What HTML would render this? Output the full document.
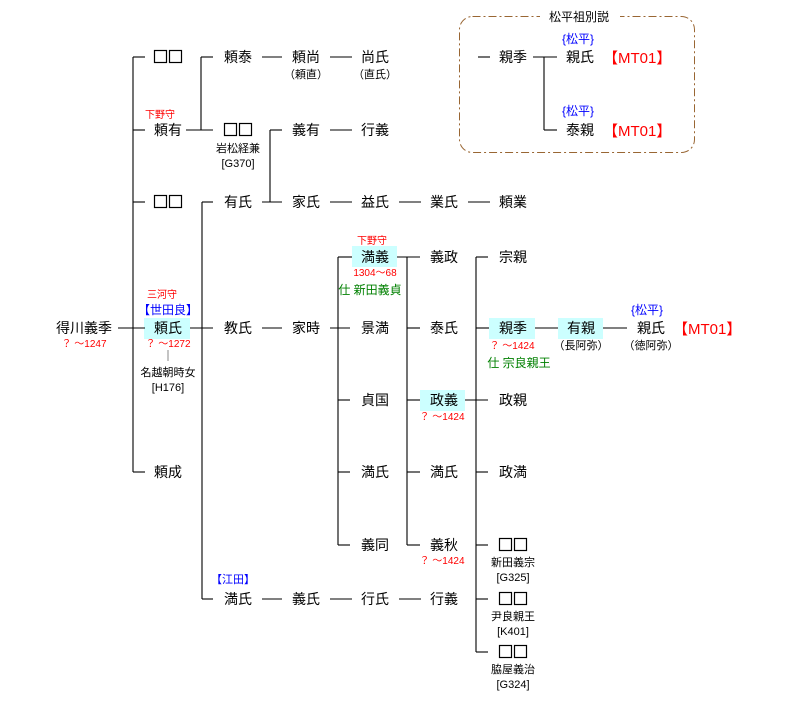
<!DOCTYPE html>
<html><head><meta charset="utf-8"><style>
html,body{margin:0;padding:0;background:#fff;}
svg{display:block;}
text{font-family:"Liberation Sans","Noto Sans CJK JP",sans-serif;}
.n{font-size:14px;fill:#000;text-anchor:middle;}
.s{font-size:11px;fill:#000;text-anchor:middle;}
.r{font-size:10px;fill:#f00;text-anchor:middle;}
.g{font-size:12px;fill:#008000;text-anchor:middle;}
.b{font-size:12px;fill:#00f;text-anchor:middle;}
.m{font-size:15px;fill:#f00;text-anchor:start;}
</style></head><body>
<svg width="810" height="711" viewBox="0 0 810 711" xmlns="http://www.w3.org/2000/svg">
<defs>
<g id="sq"><rect x="0.5" y="0.5" width="12" height="12" fill="none" stroke="#000" stroke-width="1.2"/><rect x="15.5" y="0.5" width="12" height="12" fill="none" stroke="#000" stroke-width="1.2"/></g>
</defs>
<g fill="#ccffff">
<rect x="144" y="318" width="46" height="21"/>
<rect x="352" y="246" width="45" height="21"/>
<rect x="420" y="390" width="45" height="21"/>
<rect x="489" y="318" width="46" height="21"/>
<rect x="558" y="318" width="45" height="21"/>
</g>
<rect x="459.5" y="16.5" width="235" height="136" rx="13" fill="none" stroke="#996633" stroke-width="1" stroke-dasharray="8,3,2,3"/>
<rect x="540" y="8" width="80" height="16" fill="#fff"/>
<text x="579" y="21" class="s" style="font-size:12px">松平祖別説</text>
<g stroke="#000" stroke-width="1.1" fill="none">
<line x1="118" y1="328" x2="145" y2="328"/>
<line x1="133" y1="57" x2="133" y2="472"/>
<line x1="133" y1="57" x2="145" y2="57"/><line x1="133" y1="130" x2="145" y2="130"/>
<line x1="133" y1="202" x2="145" y2="202"/><line x1="133" y1="472" x2="145" y2="472"/>
<line x1="186" y1="130" x2="213" y2="130"/>
<line x1="201" y1="57" x2="201" y2="130"/><line x1="201" y1="57" x2="213" y2="57"/>
<line x1="262" y1="57" x2="282" y2="57"/><line x1="330" y1="57" x2="352" y2="57"/>
<line x1="330" y1="130" x2="352" y2="130"/>
<line x1="270" y1="130" x2="270" y2="202"/><line x1="270" y1="130" x2="282" y2="130"/>
<line x1="262" y1="202" x2="282" y2="202"/>
<line x1="330" y1="202" x2="352" y2="202"/><line x1="399" y1="202" x2="421" y2="202"/><line x1="468" y1="202" x2="490" y2="202"/>
<line x1="202" y1="202" x2="202" y2="599"/><line x1="202" y1="202" x2="213" y2="202"/><line x1="202" y1="599" x2="213" y2="599"/>
<line x1="190" y1="328" x2="213" y2="328"/>
<line x1="262" y1="328" x2="282" y2="328"/>
<line x1="330" y1="328" x2="350" y2="328"/>
<line x1="338" y1="257" x2="338" y2="545"/>
<line x1="338" y1="257" x2="352" y2="257"/><line x1="338" y1="400" x2="350" y2="400"/><line x1="338" y1="472" x2="350" y2="472"/><line x1="338" y1="545" x2="350" y2="545"/>
<line x1="397" y1="257" x2="420" y2="257"/>
<line x1="407" y1="257" x2="407" y2="545"/>
<line x1="407" y1="328" x2="420" y2="328"/><line x1="407" y1="400" x2="420" y2="400"/><line x1="407" y1="472" x2="420" y2="472"/><line x1="407" y1="545" x2="420" y2="545"/>
<line x1="476" y1="257" x2="476" y2="652"/>
<line x1="476" y1="257" x2="488" y2="257"/><line x1="476" y1="328" x2="489" y2="328"/><line x1="465" y1="400" x2="488" y2="400"/>
<line x1="476" y1="472" x2="488" y2="472"/><line x1="476" y1="545" x2="488" y2="545"/><line x1="476" y1="599" x2="488" y2="599"/><line x1="476" y1="652" x2="488" y2="652"/>
<line x1="535" y1="328" x2="558" y2="328"/><line x1="603" y1="328" x2="627" y2="328"/>
<line x1="262" y1="599" x2="282" y2="599"/><line x1="330" y1="599" x2="352" y2="599"/><line x1="399" y1="599" x2="421" y2="599"/>
<line x1="478" y1="57" x2="490" y2="57"/>
<line x1="533" y1="57" x2="557" y2="57"/>
<line x1="544" y1="57" x2="544" y2="130"/><line x1="544" y1="130" x2="557" y2="130"/>
</g>
<line x1="168" y1="350" x2="168" y2="361" stroke="#888" stroke-width="1"/>
<use href="#sq" x="154" y="50"/>
<use href="#sq" x="224" y="123"/>
<use href="#sq" x="154" y="195"/>
<use href="#sq" x="499" y="538"/>
<use href="#sq" x="499" y="592"/>
<use href="#sq" x="499" y="645"/>
<g class="n">
<text x="84" y="333">得川義季</text>
<text x="168" y="135">頼有</text>
<text x="168" y="333">頼氏</text>
<text x="168" y="477">頼成</text>
<text x="238" y="62">頼泰</text>
<text x="306" y="62">頼尚</text>
<text x="375" y="62">尚氏</text>
<text x="306" y="135">義有</text>
<text x="375" y="135">行義</text>
<text x="238" y="207">有氏</text>
<text x="306" y="207">家氏</text>
<text x="375" y="207">益氏</text>
<text x="444" y="207">業氏</text>
<text x="513" y="207">頼業</text>
<text x="238" y="333">教氏</text>
<text x="306" y="333">家時</text>
<text x="375" y="262">満義</text>
<text x="375" y="333">景満</text>
<text x="375" y="405">貞国</text>
<text x="375" y="477">満氏</text>
<text x="375" y="550">義同</text>
<text x="444" y="262">義政</text>
<text x="444" y="333">泰氏</text>
<text x="444" y="405">政義</text>
<text x="444" y="477">満氏</text>
<text x="444" y="550">義秋</text>
<text x="513" y="262">宗親</text>
<text x="513" y="333">親季</text>
<text x="513" y="405">政親</text>
<text x="513" y="477">政満</text>
<text x="581" y="333">有親</text>
<text x="651" y="333">親氏</text>
<text x="238" y="604">満氏</text>
<text x="306" y="604">義氏</text>
<text x="375" y="604">行氏</text>
<text x="444" y="604">行義</text>
<text x="513" y="62">親季</text>
<text x="580" y="62">親氏</text>
<text x="580" y="135">泰親</text>
</g>
<g class="s">
<text x="306" y="78">（頼直）</text>
<text x="375" y="78">（直氏）</text>
<text x="238" y="152">岩松経兼</text>
<text x="238" y="167">[G370]</text>
<text x="168" y="376">名越朝時女</text>
<text x="168" y="391">[H176]</text>
<text x="581" y="349">（長阿弥）</text>
<text x="651" y="349">（徳阿弥）</text>
<text x="513" y="566">新田義宗</text>
<text x="513" y="581">[G325]</text>
<text x="513" y="620">尹良親王</text>
<text x="513" y="635">[K401]</text>
<text x="513" y="673">脇屋義治</text>
<text x="513" y="688">[G324]</text>
</g>
<g class="r">
<text x="160" y="118">下野守</text>
<text x="162" y="298">三河守</text>
<text x="84" y="347">？ ～1247</text>
<text x="168" y="347">？ ～1272</text>
<text x="372" y="244">下野守</text>
<text x="375" y="276">1304～68</text>
<text x="442" y="420">？ ～1424</text>
<text x="512" y="349">？ ～1424</text>
<text x="442" y="564">？ ～1424</text>
</g>
<g class="g">
<text x="370" y="294">仕 新田義貞</text>
<text x="519" y="367">仕 宗良親王</text>
</g>
<g class="b">
<text x="168" y="314">【世田良】</text>
<text x="233" y="583" style="font-size:11px">【江田】</text>
<text x="647" y="314">{松平}</text>
<text x="578" y="43">{松平}</text>
<text x="578" y="115">{松平}</text>
</g>
<text x="673" y="334" class="m">【MT01】</text>
<text x="603" y="63" class="m">【MT01】</text>
<text x="603" y="136" class="m">【MT01】</text>
</svg>
</body></html>
